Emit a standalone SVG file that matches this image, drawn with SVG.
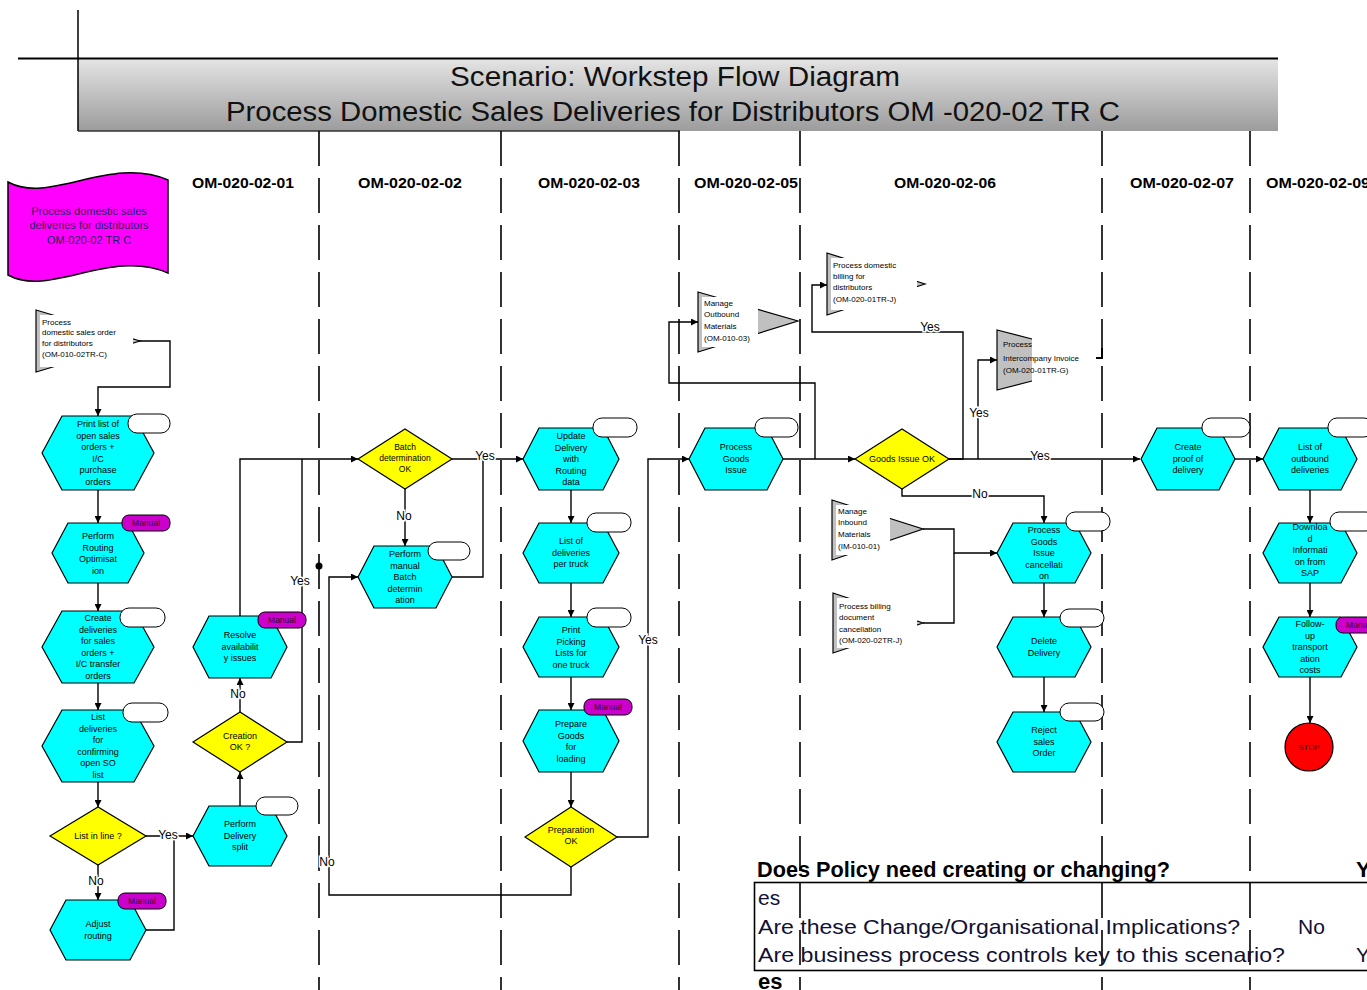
<svg xmlns="http://www.w3.org/2000/svg" width="1367" height="990" viewBox="0 0 1367 990">
<defs>
<linearGradient id="tg" x1="0" y1="0" x2="0" y2="1"><stop offset="0" stop-color="#e4e4e4"/><stop offset="1" stop-color="#9c9c9c"/></linearGradient>
<marker id="arr" viewBox="0 0 8 8" refX="8" refY="4" markerWidth="7" markerHeight="7" orient="auto" markerUnits="userSpaceOnUse"><path d="M0,0 L8,4 L0,8 z" fill="#000"/></marker>
<style>
.lane{stroke:#000;stroke-width:1.6;stroke-dasharray:35 12;fill:none}
.hex{fill:#00FFFF;stroke:#000;stroke-width:1.2}
.dia{fill:#FFFF00;stroke:#000;stroke-width:1.2}
.oval{fill:#fff;stroke:#000;stroke-width:1}
.man{fill:#CC00CC;stroke:#000;stroke-width:1}
.mt{font-family:"Liberation Sans",Arial,sans-serif;font-size:8.5px;fill:#300030;text-anchor:middle}
.nt{font-family:"Liberation Sans",Arial,sans-serif;font-size:9px;fill:#000;text-anchor:middle}
.pt{font-family:"Liberation Sans",Arial,sans-serif;font-size:8px;fill:#000}
.hd{font-family:"Liberation Sans",Arial,sans-serif;font-size:14px;font-weight:bold;fill:#000}
.c{fill:none;stroke:#000;stroke-width:1.4}
.lb{font-family:"Liberation Sans",Arial,sans-serif;font-size:12px;fill:#000;text-anchor:middle;stroke:#fff;stroke-width:3;paint-order:stroke}
.tri{fill:#C0C0C0;stroke:#000;stroke-width:1.2}
.tb{font-family:"Liberation Sans",Arial,sans-serif;font-size:21px;fill:#111133}
</style>
</defs>
<rect width="1367" height="990" fill="#fff"/>

<!-- title -->
<g id="title">
<rect x="78" y="59" width="1200" height="72" fill="url(#tg)"/>
<line x1="18" y1="58.5" x2="1278" y2="58.5" stroke="#000" stroke-width="2"/>
<line x1="78" y1="10" x2="78" y2="131" stroke="#000" stroke-width="1.5"/>
<line x1="78" y1="131" x2="680" y2="131" stroke="#333" stroke-width="1.5"/>
<text x="450" y="86" font-family="Liberation Sans,Arial,sans-serif" font-size="27" fill="#111" textLength="450" lengthAdjust="spacingAndGlyphs">Scenario: Workstep Flow Diagram</text>
<text x="226" y="121" font-family="Liberation Sans,Arial,sans-serif" font-size="27" fill="#111" textLength="894" lengthAdjust="spacingAndGlyphs">Process Domestic Sales Deliveries for Distributors OM -020-02 TR C</text>
</g>

<!-- lanes -->
<g id="lanes">
<line class="lane" x1="319" y1="131" x2="319" y2="990"/>
<line class="lane" x1="501" y1="131" x2="501" y2="990"/>
<line class="lane" x1="679" y1="131" x2="679" y2="990"/>
<line class="lane" x1="800" y1="131" x2="800" y2="990"/>
<line class="lane" x1="1102" y1="131" x2="1102" y2="990"/>
<line class="lane" x1="1250" y1="131" x2="1250" y2="990"/>
<text class="hd" x="192" y="188" textLength="102" lengthAdjust="spacingAndGlyphs">OM-020-02-01</text>
<text class="hd" x="358" y="188" textLength="104" lengthAdjust="spacingAndGlyphs">OM-020-02-02</text>
<text class="hd" x="538" y="188" textLength="102" lengthAdjust="spacingAndGlyphs">OM-020-02-03</text>
<text class="hd" x="694" y="188" textLength="104" lengthAdjust="spacingAndGlyphs">OM-020-02-05</text>
<text class="hd" x="894" y="188" textLength="102" lengthAdjust="spacingAndGlyphs">OM-020-02-06</text>
<text class="hd" x="1130" y="188" textLength="104" lengthAdjust="spacingAndGlyphs">OM-020-02-07</text>
<text class="hd" x="1266" y="188" textLength="104" lengthAdjust="spacingAndGlyphs">OM-020-02-09</text>
</g>

<!-- banner -->
<g id="banner">
<path d="M8,182 C50,205 110,155 168,180 L168,273 C110,248 50,298 8,275 Z" fill="#FF00FF" stroke="#000" stroke-width="1.5"/>
<text x="89" y="215" font-family="Liberation Sans,Arial,sans-serif" font-size="11" fill="#202060" text-anchor="middle">Process domestic sales</text>
<text x="89" y="229" font-family="Liberation Sans,Arial,sans-serif" font-size="11" fill="#202060" text-anchor="middle">deliveries for distributors</text>
<text x="89" y="244" font-family="Liberation Sans,Arial,sans-serif" font-size="11" fill="#202060" text-anchor="middle">OM-020-02 TR C</text>
</g>

<!-- connectors -->
<g id="connectors">
<path class="c" d="M137,341 H170 V387 H98 V416" marker-end="url(#arr)"/>
<path class="c" d="M98,490 V523" marker-end="url(#arr)"/>
<path class="c" d="M98,583 V611" marker-end="url(#arr)"/>
<path class="c" d="M98,683 V710" marker-end="url(#arr)"/>
<path class="c" d="M98,782 V807" marker-end="url(#arr)"/>
<path class="c" d="M98,865 V900" marker-end="url(#arr)"/>
<path class="c" d="M146,836 H193" marker-end="url(#arr)"/>
<path class="c" d="M146,930 H174 V836"/>
<path class="c" d="M240,806 V772" marker-end="url(#arr)"/>
<path class="c" d="M240,712 V678" marker-end="url(#arr)"/>
<path class="c" d="M240,616 V459 H358" marker-end="url(#arr)"/>
<path class="c" d="M287,742 H302 V459"/>
<path class="c" d="M452,459 H523" marker-end="url(#arr)"/>
<path class="c" d="M452,577 H483 V459"/>
<path class="c" d="M405,488 V546" marker-end="url(#arr)"/>
<path class="c" d="M571,490 V523" marker-end="url(#arr)"/>
<path class="c" d="M571,583 V617" marker-end="url(#arr)"/>
<path class="c" d="M571,677 V710" marker-end="url(#arr)"/>
<path class="c" d="M571,772 V807" marker-end="url(#arr)"/>
<path class="c" d="M571,867 V895 H329 V577 H358" marker-end="url(#arr)"/>
<path class="c" d="M617,837 H648 V459 H689" marker-end="url(#arr)"/>
<path class="c" d="M783,459 H855" marker-end="url(#arr)"/>
<path class="c" d="M815,459 V383 H669 V322 H698" marker-end="url(#arr)"/>
<path class="c" d="M948,459 H1140" marker-end="url(#arr)"/>
<path class="c" d="M948,459 H963 V332 H812 V285 H827" marker-end="url(#arr)"/>
<path class="c" d="M978,459 V360 H997" marker-end="url(#arr)"/>
<path class="c" d="M902,488 V496 H1044 V523" marker-end="url(#arr)"/>
<path class="c" d="M923,529 H954 V553 H997" marker-end="url(#arr)"/>
<path class="c" d="M923,623 H954 V553"/>
<path class="c" d="M1044,583 V617" marker-end="url(#arr)"/>
<path class="c" d="M1044,677 V712" marker-end="url(#arr)"/>
<path class="c" d="M1235,459 H1263" marker-end="url(#arr)"/>
<path class="c" d="M1310,490 V523" marker-end="url(#arr)"/>
<path class="c" d="M1310,583 V617" marker-end="url(#arr)"/>
<path class="c" d="M1310,677 V723" marker-end="url(#arr)"/>
<circle cx="319" cy="566" r="3.5" fill="#000"/>
<text class="lb" x="96" y="885">No</text>
<text class="lb" x="168" y="839">Yes</text>
<text class="lb" x="238" y="698">No</text>
<text class="lb" x="300" y="585">Yes</text>
<text class="lb" x="485" y="460">Yes</text>
<text class="lb" x="404" y="520">No</text>
<text class="lb" x="327" y="866">No</text>
<text class="lb" x="648" y="644">Yes</text>
<text class="lb" x="1040" y="460">Yes</text>
<text class="lb" x="930" y="331">Yes</text>
<text class="lb" x="979" y="417">Yes</text>
<text class="lb" x="980" y="498">No</text>
</g>

<!-- process interfaces -->
<g id="pi-domestic-sales-order">
<polygon class="tri" points="36,310 140,341 36,372"/>
<rect x="40" y="315" width="93" height="52" fill="#fff"/>
<text class="pt" x="42" y="325">Process</text>
<text class="pt" x="42" y="335">domestic sales order</text>
<text class="pt" x="42" y="346">for distributors</text>
<text class="pt" x="42" y="357">(OM-010-02TR-C)</text>
</g>
<g id="pi-outbound">
<polygon class="tri" points="698,292 798,321 698,352"/>
<rect x="702" y="297" width="56" height="50" fill="#fff"/>
<text class="pt" x="704" y="306">Manage</text>
<text class="pt" x="704" y="317">Outbound</text>
<text class="pt" x="704" y="329">Materials</text>
<text class="pt" x="704" y="341">(OM-010-03)</text>
</g>
<g id="pi-billing">
<polygon class="tri" points="827,253 925,284 827,315"/>
<rect x="831" y="258" width="86" height="52" fill="#fff"/>
<text class="pt" x="833" y="268">Process domestic</text>
<text class="pt" x="833" y="279">billing for</text>
<text class="pt" x="833" y="290">distributors</text>
<text class="pt" x="833" y="302">(OM-020-01TR-J)</text>
</g>
<g id="pi-intercompany">
<polygon points="997,330 1032,339 1032,381 997,390" fill="#C0C0C0"/>
<polyline points="1032,339 997,330 997,390 1032,381" fill="none" stroke="#000" stroke-width="1.2"/>
<text class="pt" x="1003" y="347">Process</text>
<text class="pt" x="1003" y="361">Intercompany Invoice</text>
<text class="pt" x="1003" y="373">(OM-020-01TR-G)</text>
<path d="M1096,358 H1102 V348" fill="none" stroke="#000" stroke-width="2"/>
</g>
<g id="pi-inbound">
<polygon class="tri" points="832,500 923,529 832,560"/>
<rect x="836" y="505" width="54" height="50" fill="#fff"/>
<text class="pt" x="838" y="514">Manage</text>
<text class="pt" x="838" y="525">Inbound</text>
<text class="pt" x="838" y="537">Materials</text>
<text class="pt" x="838" y="549">(IM-010-01)</text>
</g>
<g id="pi-billing-cancel">
<polygon class="tri" points="833,593 923,623 833,653"/>
<rect x="837" y="598" width="80" height="50" fill="#fff"/>
<text class="pt" x="839" y="609">Process billing</text>
<text class="pt" x="839" y="620">document</text>
<text class="pt" x="839" y="632">cancellation</text>
<text class="pt" x="839" y="643">(OM-020-02TR-J)</text>
</g>

<!-- lane 1 -->
<g id="n-print-list">
<polygon class="hex" points="42,453 62,416 134,416 154,453 134,490 62,490"/>
<rect class="oval" x="128" y="414" width="42" height="19" rx="9"/>
<text class="nt" x="98" y="427"><tspan x="98">Print list of</tspan><tspan x="98" dy="11.5">open sales</tspan><tspan x="98" dy="11.5">orders +</tspan><tspan x="98" dy="11.5">I/C</tspan><tspan x="98" dy="11.5">purchase</tspan><tspan x="98" dy="11.5">orders</tspan></text>
</g>
<g id="n-routing-opt">
<polygon class="hex" points="52,553 68,523 128,523 144,553 128,583 68,583"/>
<rect class="man" x="122" y="515" width="48" height="16" rx="7"/>
<text class="mt" x="146" y="526">Manual</text>
<text class="nt" x="98" y="539"><tspan x="98">Perform</tspan><tspan x="98" dy="11.5">Routing</tspan><tspan x="98" dy="11.5">Optimisat</tspan><tspan x="98" dy="11.5">ion</tspan></text>
</g>
<g id="n-create-deliveries">
<polygon class="hex" points="42,647 62,611 134,611 154,647 134,683 62,683"/>
<rect class="oval" x="120" y="608" width="45" height="19" rx="9"/>
<text class="nt" x="98" y="621"><tspan x="98">Create</tspan><tspan x="98" dy="11.5">deliveries</tspan><tspan x="98" dy="11.5">for sales</tspan><tspan x="98" dy="11.5">orders +</tspan><tspan x="98" dy="11.5">I/C transfer</tspan><tspan x="98" dy="11.5">orders</tspan></text>
</g>
<g id="n-list-deliveries">
<polygon class="hex" points="42,746 62,710 134,710 154,746 134,782 62,782"/>
<rect class="oval" x="123" y="703" width="45" height="19" rx="9"/>
<text class="nt" x="98" y="720"><tspan x="98">List</tspan><tspan x="98" dy="11.5">deliveries</tspan><tspan x="98" dy="11.5">for</tspan><tspan x="98" dy="11.5">confirming</tspan><tspan x="98" dy="11.5">open SO</tspan><tspan x="98" dy="11.5">list</tspan></text>
</g>
<g id="n-list-in-line">
<polygon class="dia" points="50,836 98,807 146,836 98,865"/>
<text class="nt" x="98" y="839">List in line ?</text>
</g>
<g id="n-adjust-routing">
<polygon class="hex" points="50,930 66,900 130,900 146,930 130,960 66,960"/>
<rect class="man" x="118" y="893" width="48" height="16" rx="7"/>
<text class="mt" x="142" y="904">Manual</text>
<text class="nt" x="98" y="927"><tspan x="98">Adjust</tspan><tspan x="98" dy="11.5">routing</tspan></text>
</g>

<!-- lane 2 -->
<g id="n-delivery-split">
<polygon class="hex" points="193,836 209,806 271,806 287,836 271,866 209,866"/>
<rect class="oval" x="256" y="797" width="42" height="18" rx="9"/>
<text class="nt" x="240" y="827"><tspan x="240">Perform</tspan><tspan x="240" dy="11.5">Delivery</tspan><tspan x="240" dy="11.5">split</tspan></text>
</g>
<g id="n-creation-ok">
<polygon class="dia" points="193,742 240,712 287,742 240,772"/>
<text class="nt" x="240" y="739"><tspan x="240">Creation</tspan><tspan x="240" dy="11">OK ?</tspan></text>
</g>
<g id="n-resolve">
<polygon class="hex" points="193,647 209,616 271,616 287,647 271,678 209,678"/>
<rect class="man" x="258" y="612" width="48" height="16" rx="7"/>
<text class="mt" x="282" y="623">Manual</text>
<text class="nt" x="240" y="638"><tspan x="240">Resolve</tspan><tspan x="240" dy="11.5">availabilit</tspan><tspan x="240" dy="11.5">y issues</tspan></text>
</g>

<!-- lane 3 -->
<g id="n-batch-ok">
<polygon class="dia" points="358,459 405,429 452,459 405,489"/>
<text class="nt" x="405" y="450" style="font-size:8.5px"><tspan x="405">Batch</tspan><tspan x="405" dy="11">determination</tspan><tspan x="405" dy="11">OK</tspan></text>
</g>
<g id="n-manual-batch">
<polygon class="hex" points="358,577 374,546 436,546 452,577 436,608 374,608"/>
<rect class="oval" x="428" y="542" width="42" height="18" rx="9"/>
<text class="nt" x="405" y="557"><tspan x="405">Perform</tspan><tspan x="405" dy="11.5">manual</tspan><tspan x="405" dy="11.5">Batch</tspan><tspan x="405" dy="11.5">determin</tspan><tspan x="405" dy="11.5">ation</tspan></text>
</g>

<!-- lane 4 -->
<g id="n-update-delivery">
<polygon class="hex" points="523,459 539,428 603,428 619,459 603,490 539,490"/>
<rect class="oval" x="593" y="418" width="44" height="19" rx="9"/>
<text class="nt" x="571" y="439"><tspan x="571">Update</tspan><tspan x="571" dy="11.5">Delivery</tspan><tspan x="571" dy="11.5">with</tspan><tspan x="571" dy="11.5">Routing</tspan><tspan x="571" dy="11.5">data</tspan></text>
</g>
<g id="n-deliveries-truck">
<polygon class="hex" points="523,553 539,523 603,523 619,553 603,583 539,583"/>
<rect class="oval" x="587" y="513" width="44" height="19" rx="9"/>
<text class="nt" x="571" y="544"><tspan x="571">List of</tspan><tspan x="571" dy="11.5">deliveries</tspan><tspan x="571" dy="11.5">per truck</tspan></text>
</g>
<g id="n-picking">
<polygon class="hex" points="523,647 539,617 603,617 619,647 603,677 539,677"/>
<rect class="oval" x="587" y="608" width="44" height="19" rx="9"/>
<text class="nt" x="571" y="633"><tspan x="571">Print</tspan><tspan x="571" dy="11.5">Picking</tspan><tspan x="571" dy="11.5">Lists for</tspan><tspan x="571" dy="11.5">one truck</tspan></text>
</g>
<g id="n-prepare-goods">
<polygon class="hex" points="523,741 539,710 603,710 619,741 603,772 539,772"/>
<rect class="man" x="584" y="699" width="48" height="16" rx="7"/>
<text class="mt" x="608" y="710">Manual</text>
<text class="nt" x="571" y="727"><tspan x="571">Prepare</tspan><tspan x="571" dy="11.5">Goods</tspan><tspan x="571" dy="11.5">for</tspan><tspan x="571" dy="11.5">loading</tspan></text>
</g>
<g id="n-prep-ok">
<polygon class="dia" points="525,837 571,807 617,837 571,867"/>
<text class="nt" x="571" y="833"><tspan x="571">Preparation</tspan><tspan x="571" dy="11">OK</tspan></text>
</g>

<!-- lane 5 -->
<g id="n-goods-issue">
<polygon class="hex" points="689,459 705,428 767,428 783,459 767,490 705,490"/>
<rect class="oval" x="755" y="418" width="43" height="19" rx="9"/>
<text class="nt" x="736" y="450"><tspan x="736">Process</tspan><tspan x="736" dy="11.5">Goods</tspan><tspan x="736" dy="11.5">Issue</tspan></text>
</g>

<!-- lane 6 -->
<g id="n-gi-ok">
<polygon class="dia" points="855,459 902,429 949,459 902,489"/>
<text class="nt" x="902" y="462">Goods Issue OK</text>
</g>
<g id="n-gi-cancel">
<polygon class="hex" points="997,553 1013,523 1075,523 1091,553 1075,583 1013,583"/>
<rect class="oval" x="1066" y="512" width="44" height="19" rx="9"/>
<text class="nt" x="1044" y="533"><tspan x="1044">Process</tspan><tspan x="1044" dy="11.5">Goods</tspan><tspan x="1044" dy="11.5">Issue</tspan><tspan x="1044" dy="11.5">cancellati</tspan><tspan x="1044" dy="11.5">on</tspan></text>
</g>
<g id="n-delete-delivery">
<polygon class="hex" points="997,647 1013,617 1075,617 1091,647 1075,677 1013,677"/>
<rect class="oval" x="1060" y="609" width="44" height="18" rx="9"/>
<text class="nt" x="1044" y="644"><tspan x="1044">Delete</tspan><tspan x="1044" dy="11.5">Delivery</tspan></text>
</g>
<g id="n-reject">
<polygon class="hex" points="997,742 1013,712 1075,712 1091,742 1075,772 1013,772"/>
<rect class="oval" x="1060" y="703" width="44" height="18" rx="9"/>
<text class="nt" x="1044" y="733"><tspan x="1044">Reject</tspan><tspan x="1044" dy="11.5">sales</tspan><tspan x="1044" dy="11.5">Order</tspan></text>
</g>

<!-- lane 7 -->
<g id="n-proof">
<polygon class="hex" points="1141,459 1157,428 1219,428 1235,459 1219,490 1157,490"/>
<rect class="oval" x="1202" y="418" width="48" height="19" rx="9"/>
<text class="nt" x="1188" y="450"><tspan x="1188">Create</tspan><tspan x="1188" dy="11.5">proof of</tspan><tspan x="1188" dy="11.5">delivery</tspan></text>
</g>

<!-- lane 8 -->
<g id="n-outbound-list">
<polygon class="hex" points="1263,459 1279,428 1341,428 1357,459 1341,490 1279,490"/>
<rect class="oval" x="1328" y="418" width="45" height="19" rx="9"/>
<text class="nt" x="1310" y="450"><tspan x="1310">List of</tspan><tspan x="1310" dy="11.5">outbound</tspan><tspan x="1310" dy="11.5">deliveries</tspan></text>
</g>
<g id="n-download">
<polygon class="hex" points="1263,553 1279,523 1341,523 1357,553 1341,583 1279,583"/>
<rect class="oval" x="1330" y="512" width="45" height="19" rx="9"/>
<text class="nt" x="1310" y="530"><tspan x="1310">Downloa</tspan><tspan x="1310" dy="11.5">d</tspan><tspan x="1310" dy="11.5">Informati</tspan><tspan x="1310" dy="11.5">on from</tspan><tspan x="1310" dy="11.5">SAP</tspan></text>
</g>
<g id="n-followup">
<polygon class="hex" points="1263,647 1279,617 1341,617 1357,647 1341,677 1279,677"/>
<rect class="man" x="1336" y="617" width="48" height="16" rx="7"/>
<text class="mt" x="1360" y="628">Manual</text>
<text class="nt" x="1310" y="627"><tspan x="1310">Follow-</tspan><tspan x="1310" dy="11.5">up</tspan><tspan x="1310" dy="11.5">transport</tspan><tspan x="1310" dy="11.5">ation</tspan><tspan x="1310" dy="11.5">costs</tspan></text>
</g>
<g id="n-stop">
<circle cx="1309" cy="747" r="24" fill="#FF0000" stroke="#000" stroke-width="1.2"/>
<text class="nt" x="1309" y="750" style="font-size:8px">STOP</text>
</g>

<!-- bottom table -->
<g id="policy-table">
<text x="757" y="877" font-family="Liberation Sans,Arial,sans-serif" font-size="22" font-weight="bold" fill="#000" textLength="413" lengthAdjust="spacingAndGlyphs">Does Policy need creating or changing?</text>
<text x="1356" y="877" font-family="Liberation Sans,Arial,sans-serif" font-size="22" font-weight="bold" fill="#000">Y</text>
<rect x="754.5" y="882.5" width="640" height="88" fill="none" stroke="#000" stroke-width="1.6"/>
<text class="tb" x="758" y="905">es</text>
<text class="tb" x="758" y="934" textLength="482" lengthAdjust="spacingAndGlyphs">Are these Change/Organisational Implications?</text>
<text class="tb" x="1298" y="934">No</text>
<text class="tb" x="758" y="962" textLength="527" lengthAdjust="spacingAndGlyphs">Are business process controls key to this scenario?</text>
<text class="tb" x="1356" y="962">Y</text>
<text x="758" y="989" font-family="Liberation Sans,Arial,sans-serif" font-size="22" font-weight="bold" fill="#000">es</text>
</g>
</svg>
